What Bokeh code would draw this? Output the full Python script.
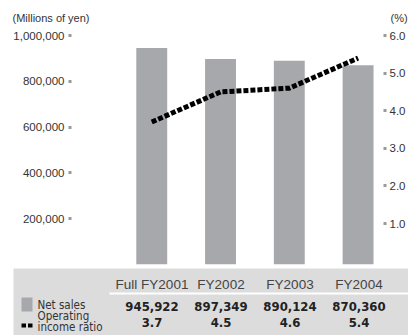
from bokeh.plotting import figure
from bokeh.models import Range1d, LinearAxis, FixedTicker, NumeralTickFormatter
from bokeh.layouts import column
from bokeh.core.properties import value
from bokeh.embed import file_html
from bokeh.resources import INLINE

# ---- data ----
categories = ["Full FY2001", "FY2002", "FY2003", "FY2004"]
net_sales = [945922, 897349, 890124, 870360]
op_ratio = [3.7, 4.5, 4.6, 5.4]
left_ticks = [200000, 400000, 600000, 800000, 1000000]
right_ticks = [1.0, 2.0, 3.0, 4.0, 5.0, 6.0]
left_unit = "(Millions of yen)"
right_unit = "(%)"
legend_sales = "Net sales"
legend_ratio = ["Operating", "income ratio"]

xs = list(range(len(categories)))

# ---- layout helpers (pixel geometry) ----
W = 408
C0, STEP = 151.5, 69.0          # pixel x of first category centre, spacing
def dx(px):
    return (px - C0) / STEP

BAR_GRAY = "#a7a8ac"
BAND_GRAY = "#dcdcdc"
SANS = value("Liberation Sans")
NARROW = value("DejaVu Sans Condensed, Liberation Sans Narrow, Liberation Sans")

def bare(fig):
    fig.outline_line_color = None
    fig.xgrid.visible = False
    fig.ygrid.visible = False
    fig.xaxis.visible = False
    fig.yaxis.visible = False
    fig.frame_align = False
    return fig

# ---- header (units) ----
HH = 26
h = bare(figure(width=W, height=HH, output_backend="svg", toolbar_location=None,
                x_range=Range1d(0, W), y_range=Range1d(HH, 0),
                min_border=0))
h.text(x=[12], y=[17], text=[left_unit], text_font=SANS, text_font_size="11px",
       text_color="#333333", text_align="left", text_baseline="middle")
h.text(x=[390], y=[17], text=[right_unit], text_font=SANS, text_font_size="11px",
       text_color="#333333", text_align="left", text_baseline="middle")

# ---- chart ----
FL, FR, FT, FB = 71, 384, 35, 264
CH = 268 - HH
p = bare(figure(width=W, height=CH, output_backend="svg", toolbar_location=None,
                x_range=Range1d(dx(FL), dx(FR)), y_range=Range1d(0, 1000000),
                min_border_left=FL, min_border_right=W - FR, min_border_top=FT - HH,
                min_border_bottom=268 - FB))
p.extra_y_ranges = {"pct": Range1d(-0.09, 6.0)}

def style_axis(ax):
    ax.axis_line_color = None
    ax.major_tick_in = 0
    ax.major_tick_out = 3
    ax.major_tick_line_width = 3
    ax.major_tick_line_color = "#9a9a9a"
    ax.minor_tick_line_color = None
    ax.major_label_text_font = "Liberation Sans"
    ax.major_label_text_font_size = "11.5px"
    ax.major_label_text_color = "#333333"
    ax.major_label_standoff = 3

la = LinearAxis(ticker=FixedTicker(ticks=left_ticks),
                formatter=NumeralTickFormatter(format="0,0"))
style_axis(la)
la.major_label_standoff = 4
p.add_layout(la, "left")

ra = LinearAxis(y_range_name="pct", ticker=FixedTicker(ticks=right_ticks),
                formatter=NumeralTickFormatter(format="0.0"))
style_axis(ra)
p.add_layout(ra, "right")

p.vbar(x=xs, top=net_sales, width=31 / STEP, color=BAR_GRAY, line_color=None)
p.line(x=xs, y=op_ratio, y_range_name="pct", line_color="black",
       line_width=5, line_dash="5 2")

# ---- bottom table band ----
BH = 335 - 268
q = bare(figure(width=W, height=BH, output_backend="svg", toolbar_location=None,
                x_range=Range1d(dx(13), dx(W)), y_range=Range1d(BH, 0),
                min_border_left=13, min_border_right=0, min_border_top=0,
                min_border_bottom=0, background_fill_color=BAND_GRAY))

q.text(x=xs, y=[16] * len(xs), text=categories, text_font=SANS,
       text_font_size="13.5px", text_color="#444444",
       text_align="center", text_baseline="middle")
q.segment(x0=[dx(109)], y0=[25], x1=[dx(W)], y1=[25],
          line_color="white", line_width=2)
q.text(x=xs, y=[38] * len(xs), text=[f"{v:,}" for v in net_sales], text_font=NARROW,
       text_font_style="bold", text_font_size="13px", text_color="#222222",
       text_align="center", text_baseline="middle")
q.text(x=xs, y=[54] * len(xs), text=[f"{v:.1f}" for v in op_ratio], text_font=NARROW,
       text_font_style="bold", text_font_size="13px", text_color="#222222",
       text_align="center", text_baseline="middle")
q.quad(left=[dx(21)], right=[dx(32)], top=[29], bottom=[43], color=BAR_GRAY, line_color=None)
q.quad(left=[dx(21), dx(27.5)], right=[dx(25.5), dx(32)], top=[55, 55], bottom=[59, 59],
       color="black", line_color=None)
q.text(x=[dx(37)], y=[36], text=[legend_sales], text_font=NARROW,
       text_font_size="11.5px", text_color="#333333",
       text_align="left", text_baseline="middle")
q.text(x=[dx(37), dx(37)], y=[47, 58], text=legend_ratio, text_font=NARROW,
       text_font_size="11.5px", text_color="#333333",
       text_align="left", text_baseline="middle")

layout = column(h, p, q, spacing=0)
open("out.html", "w").write(file_html(layout, INLINE))
